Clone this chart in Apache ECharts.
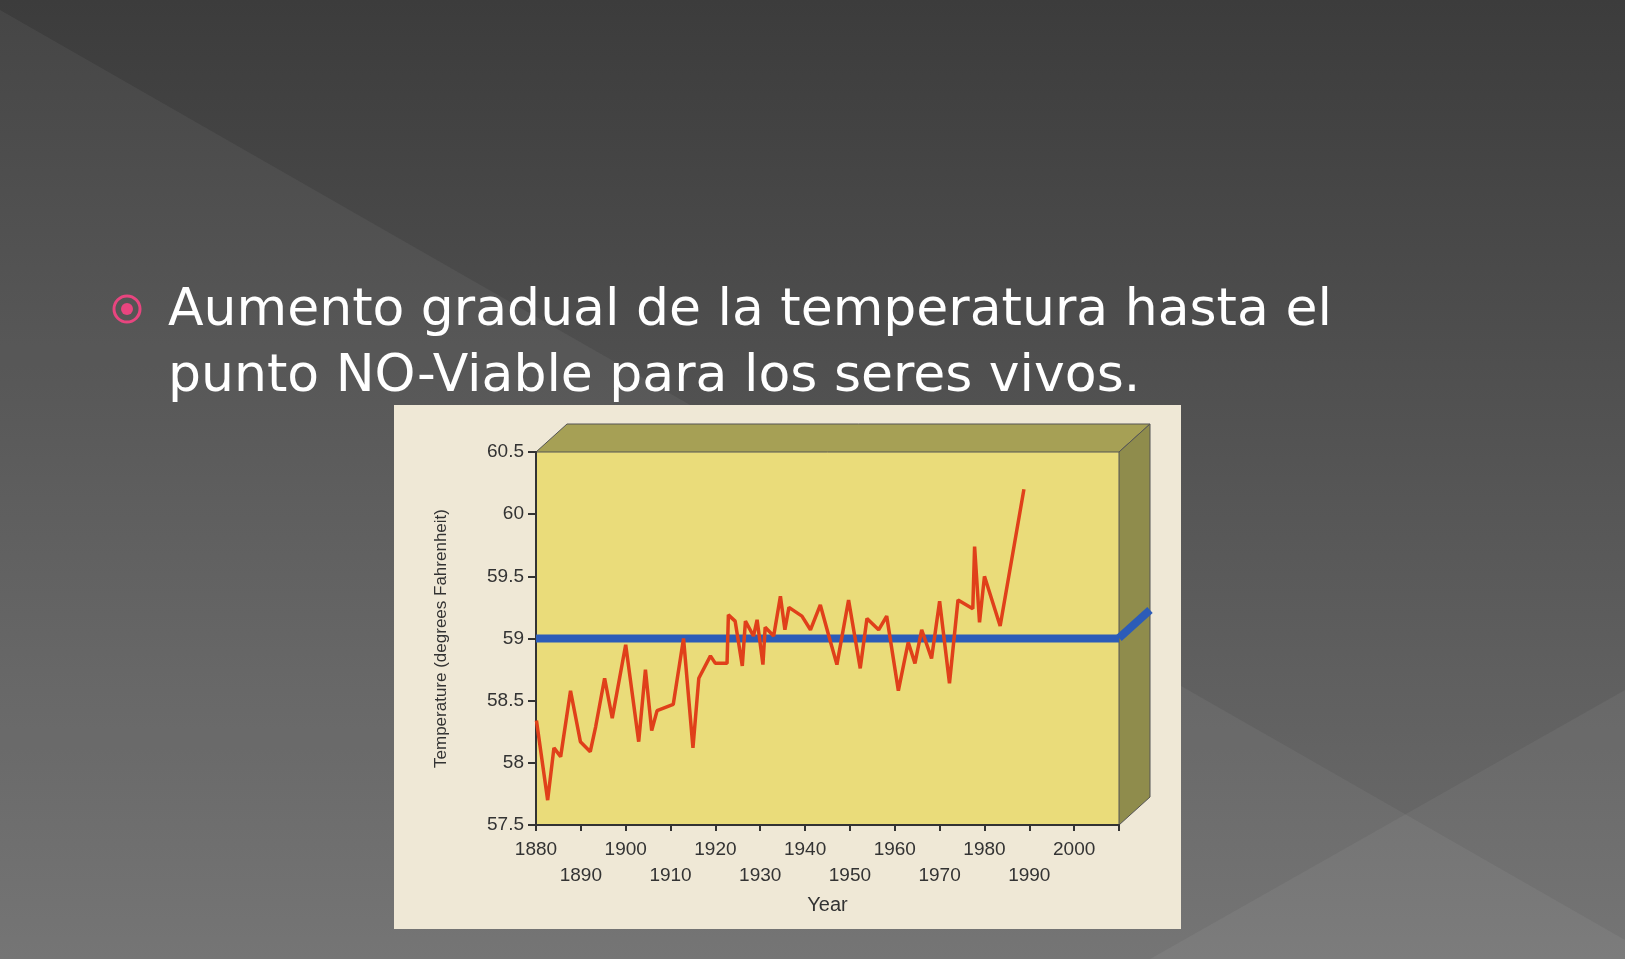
<!DOCTYPE html><html><head><meta charset="utf-8">
<script src="https://cdn.jsdelivr.net/npm/echarts@6/dist/echarts.min.js"></script>
<style>html,body{margin:0;padding:0;background:#444}#c{width:1625px;height:959px}</style></head><body><div id="c"></div><script>
var years=[1880.1,1882.6,1884,1885.5,1887.7,1889.9,1892.1,1893.3,1895.3,1897,1900,1902.9,1904.4,1905.8,1907,1910.6,1912.9,1915,1916.3,1918.9,1920,1922.6,1922.9,1924.4,1926,1926.7,1928.5,1929.3,1930.6,1931.1,1933,1934.5,1935.5,1936.4,1939.3,1941.2,1943.4,1945.3,1947.1,1949.7,1952.3,1953.8,1956.4,1958.2,1960.8,1963,1964.5,1966,1968.2,1970,1972.2,1974.1,1977.4,1977.8,1978.9,1980,1983.5,1988.8];
var temps=[58.34,57.7,58.12,58.05,58.58,58.17,58.09,58.29,58.68,58.36,58.95,58.17,58.75,58.26,58.42,58.47,59.0,58.12,58.68,58.86,58.8,58.8,59.19,59.14,58.78,59.14,59.02,59.15,58.79,59.09,59.02,59.34,59.07,59.25,59.18,59.07,59.27,59.02,58.79,59.31,58.76,59.16,59.07,59.18,58.58,58.97,58.8,59.07,58.84,59.3,58.64,59.31,59.24,59.74,59.13,59.5,59.1,60.2];
var baseline=59;
var yTicks=['57.5','58','58.5','59','59.5','60','60.5'];
var c=echarts.init(document.getElementById('c'));
var L=536,R=1119,T=452,B=825,dx=31,dy=28;
c.setOption({
backgroundColor:{type:'linear',x:0,y:0,x2:0,y2:1,colorStops:[{offset:0,color:'#3c3c3c'},{offset:1,color:'#6e6e6e'}]},
graphic:[
{type:'polygon',z:-10,shape:{points:[[0,10],[1625,940],[1625,959],[0,959]]},style:{fill:'rgba(255,255,255,0.05)'}},
{type:'polygon',z:-10,shape:{points:[[1625,690],[1625,959],[1150,959]]},style:{fill:'rgba(255,255,255,0.05)'}},
{type:'rect',z:-5,shape:{x:394,y:405,width:787,height:524},style:{fill:'#efe8d6'}},
{type:'rect',z:-4,shape:{x:L,y:T,width:R-L,height:B-T},style:{fill:'#eadc7a'}},
{type:'polygon',z:-4,shape:{points:[[L,T],[L+dx,T-dy],[R+dx,T-dy],[R,T]]},style:{fill:'#a6a055',stroke:'#555',lineWidth:1}},
{type:'polygon',z:-4,shape:{points:[[R,T],[R+dx,T-dy],[R+dx,B-dy],[R,B]]},style:{fill:'#8f8c4c',stroke:'#555',lineWidth:1}},
{type:'line',z:10,shape:{x1:R,y1:638,x2:R+dx,y2:638-dy},style:{stroke:'#2c5cb8',lineWidth:8}},
{type:'circle',shape:{cx:127,cy:309,r:13},style:{fill:'none',stroke:'#e8457f',lineWidth:3}},
{type:'circle',shape:{cx:127,cy:309,r:6},style:{fill:'#e8457f'}},
{type:'text',left:168,top:278,style:{text:'Aumento gradual de la temperatura hasta el\npunto NO-Viable para los seres vivos.',fill:'#ffffff',font:'52px "DejaVu Sans", sans-serif',lineHeight:66}}
],
grid:{left:L,right:1625-R,top:T,bottom:959-B},
xAxis:{type:'value',min:1880,max:2010,interval:10,
 axisLine:{show:true,lineStyle:{color:'#333',width:2}},axisTick:{show:true,length:6,lineStyle:{color:'#333',width:2}},
 splitLine:{show:false},
 axisLabel:{color:'#333',fontSize:19,fontFamily:'Liberation Sans',lineHeight:26,margin:12,formatter:function(v){if(v>2000)return '';return (Math.round(v/10)%2===0)?String(v):'\n'+v;}},
 name:'Year',nameLocation:'middle',nameGap:70,nameTextStyle:{color:'#333',fontSize:20,fontFamily:'Liberation Sans'}},
yAxis:{type:'value',min:57.5,max:60.5,interval:0.5,
 axisLine:{show:true,lineStyle:{color:'#333',width:2}},axisTick:{show:true,length:8,lineStyle:{color:'#333',width:2}},splitLine:{show:false},
 axisLabel:{color:'#333',fontSize:19,fontFamily:'Liberation Sans',margin:12,formatter:function(v){return yTicks[Math.round((v-57.5)*2)];}},
 name:'Temperature (degrees Fahrenheit)',nameLocation:'middle',nameGap:86,nameTextStyle:{color:'#333',fontSize:17,fontFamily:'Liberation Sans'}},
series:[
{type:'line',data:[[1880,baseline],[2010,baseline]],symbol:'none',lineStyle:{color:'#2c5cb8',width:8},z:2,silent:true},
{type:'line',data:years.map(function(y,i){return [y,temps[i]];}),symbol:'none',lineStyle:{color:'#e0401a',width:3.5},z:3}
]});
</script></body></html>
